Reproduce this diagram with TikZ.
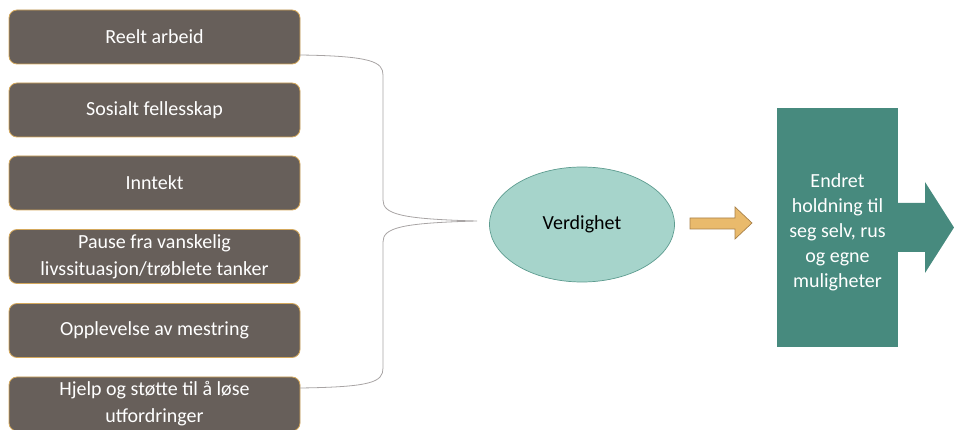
\documentclass[tikz,border=0pt]{standalone}
\usepackage{fontspec}
\setmainfont{Carlito}
\usetikzlibrary{shapes.geometric}
\definecolor{boxfill}{HTML}{675F5A}
\definecolor{boxline}{HTML}{D4A85C}
\definecolor{ellfill}{HTML}{A6D4CB}
\definecolor{ellline}{HTML}{5E9C90}
\definecolor{orfill}{HTML}{E9BA6C}
\definecolor{orline}{HTML}{A88048}
\definecolor{tealfill}{HTML}{478A7E}
\definecolor{bracecol}{HTML}{A8A4A4}
\tikzset{
  itembox/.style={draw=boxline, line width=0.8pt, fill=boxfill, rounded corners=8pt,
    minimum width=291pt, minimum height=54pt, text=white, align=center,
    font=\fontsize{20}{27}\selectfont, inner sep=0pt},
  bracestyle/.style={draw=bracecol, line width=0.8pt},
}
\begin{document}
\begin{tikzpicture}[x=1pt,y=-1pt]
\useasboundingbox (0,0) rectangle (954,430);
\node[itembox] (b1) at (154.5,37) {Reelt arbeid};
\node[itembox] (b2) at (154.5,110) {Sosialt fellesskap};
\node[itembox] (b3) at (154.5,183) {Inntekt};
\node[itembox] (b4) at (154.5,256.5) {Pause fra vanskelig\\livssituasjon/trøblete tanker};
\node[itembox] (b5) at (154.5,330.5) {Opplevelse av mestring};
\node[itembox] (b6) at (154.5,404) {Hjelp og støtte til å løse\\utfordringer};
\coordinate (bt) at (300,55);
\coordinate (bb) at (300,388);
\coordinate (tip) at (477,221);
\draw[bracestyle] (bt) .. controls (372,56) and (383,62) .. (383,75) -- (383,200)
  .. controls (383,214) and (400,219) .. (tip)
  .. controls (400,223) and (383,228) .. (383,242) -- (383,368)
  .. controls (383,382) and (372,387) .. (bb);
\node[ellipse, draw=ellline, line width=0.7pt, fill=ellfill, minimum width=185pt, minimum height=115pt,
  font=\fontsize{20}{27}\selectfont, inner sep=0pt] (v) at (582,224.5) {Verdighet};
\draw[draw=orline, line width=0.7pt, fill=orfill] (690,218) -- (735,218) -- (735,207) -- (752,223)
  -- (735,239) -- (735,229) -- (690,229) -- cycle;
\fill[tealfill] (777,108) rectangle (898,347);
\fill[tealfill] (898,203) -- (925,203) -- (925,182) -- (954,227.5) -- (925,273) -- (925,252) -- (898,252) -- cycle;
\node[text=white, align=center, font=\fontsize{20}{25}\selectfont] (e) at (837.5,232)
  {Endret\\holdning til\\seg selv, rus\\og egne\\muligheter};
\end{tikzpicture}
\end{document}
